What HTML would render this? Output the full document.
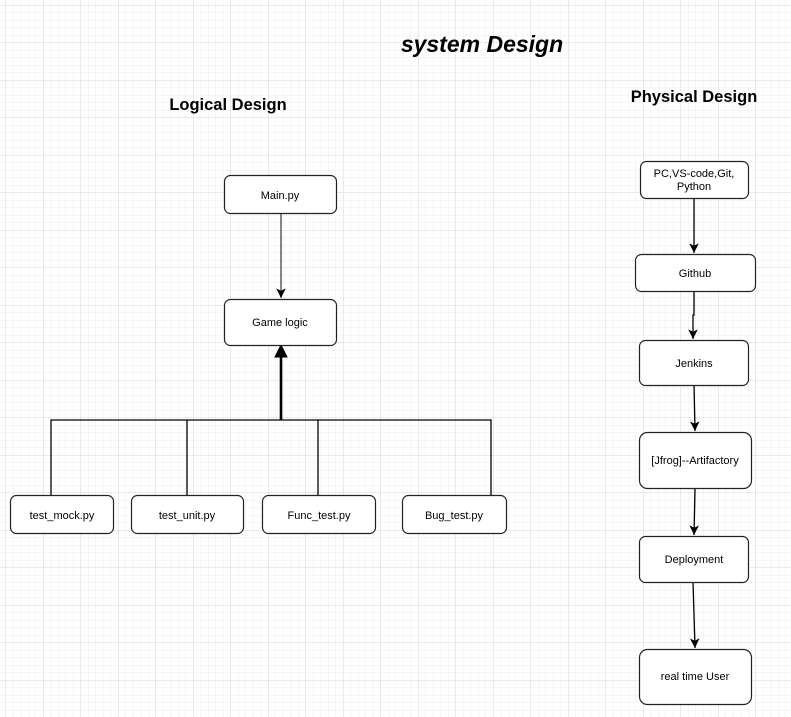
<!DOCTYPE html>
<html><head><meta charset="utf-8"><style>
html,body{margin:0;padding:0;background:#fff;}
body{width:791px;height:717px;overflow:hidden;position:relative;font-family:"Liberation Sans",Arial,sans-serif;}
svg{position:absolute;left:0;top:0;}
</style></head><body>
<svg width="791" height="717" viewBox="0 0 791 717" xmlns="http://www.w3.org/2000/svg">
<defs>
<pattern id="minor" x="5.5" y="5" width="7.5" height="7.5" patternUnits="userSpaceOnUse">
<path d="M0 0H7.5M0 0V7.5" stroke="#eeeeee" stroke-width="1" fill="none"/>
</pattern>
<pattern id="major" x="5.5" y="5" width="37.5" height="37.5" patternUnits="userSpaceOnUse">
<path d="M0 0H37.5M0 0V37.5" stroke="#d6d6d6" stroke-width="1" fill="none"/>
</pattern>
<marker id="ar" markerWidth="12" markerHeight="12" refX="9" refY="5" orient="auto" markerUnits="userSpaceOnUse" viewBox="0 0 10 10">
<path d="M1 1 L9 5 L1 9 L3 5 Z" fill="#000"/>
</marker>
</defs>
<rect width="791" height="717" fill="url(#minor)"/>
<rect width="791" height="717" fill="url(#major)"/>

<text x="482" y="52" font-size="23" font-weight="bold" font-style="italic" text-anchor="middle">system Design</text>
<text x="228" y="110" font-size="16.5" font-weight="bold" text-anchor="middle">Logical Design</text>
<text x="694" y="102" font-size="16.5" font-weight="bold" text-anchor="middle">Physical Design</text>

<g stroke="#000" fill="none">
<line x1="281" y1="214" x2="281" y2="298" stroke="#444" stroke-width="1.3" marker-end="url(#ar)"/>
<polyline points="51,495 51,420 491,420 491,495" stroke-width="1.3"/>
<line x1="187" y1="420" x2="187" y2="495" stroke-width="1.3"/>
<line x1="318" y1="420" x2="318" y2="495" stroke-width="1.3"/>
<line x1="281" y1="420" x2="281" y2="352" stroke-width="2.6"/>
<path d="M275 357 L281 345 L287 357 Z" fill="#000"/>

<line x1="694" y1="198" x2="694" y2="253" stroke-width="1.3" marker-end="url(#ar)"/>
<polyline points="694,291 694,315 693,315 693,339" stroke-width="1.3" marker-end="url(#ar)"/>
<line x1="694" y1="385" x2="695" y2="431" stroke-width="1.3" marker-end="url(#ar)"/>
<line x1="695" y1="488" x2="694" y2="535" stroke-width="1.3" marker-end="url(#ar)"/>
<line x1="693" y1="582" x2="695" y2="648" stroke-width="1.3" marker-end="url(#ar)"/>
</g>

<g fill="#fff" stroke="#222" stroke-width="1.2">
<rect x="224.5" y="175.5" width="112" height="38" rx="6"/>
<rect x="224.5" y="299.5" width="112" height="46" rx="6"/>
<rect x="10.5" y="495.5" width="103" height="38" rx="6"/>
<rect x="131.5" y="495.5" width="112" height="38" rx="6"/>
<rect x="262.5" y="495.5" width="113" height="38" rx="6"/>
<rect x="402.5" y="495.5" width="104" height="38" rx="6"/>
<rect x="640.5" y="161.5" width="108" height="37" rx="6"/>
<rect x="635.5" y="254.5" width="120" height="37" rx="6"/>
<rect x="639.5" y="340.5" width="109" height="45" rx="6"/>
<rect x="639.5" y="432.5" width="112" height="56" rx="8"/>
<rect x="639.5" y="536.5" width="109" height="46" rx="6"/>
<rect x="639.5" y="649.5" width="112" height="55" rx="8"/>
</g>

<g font-size="11" text-anchor="middle" fill="#000">
<text x="280" y="199">Main.py</text>
<text x="280" y="326">Game logic</text>
<text x="62" y="519">test_mock.py</text>
<text x="187" y="519">test_unit.py</text>
<text x="319" y="519">Func_test.py</text>
<text x="454" y="519">Bug_test.py</text>
<text x="694" y="177">PC,VS-code,Git,</text>
<text x="694" y="190">Python</text>
<text x="695" y="277">Github</text>
<text x="694" y="367">Jenkins</text>
<text x="695" y="464">[Jfrog]--Artifactory</text>
<text x="694" y="563">Deployment</text>
<text x="695" y="680">real time User</text>
</g>
</svg>
</body></html>
